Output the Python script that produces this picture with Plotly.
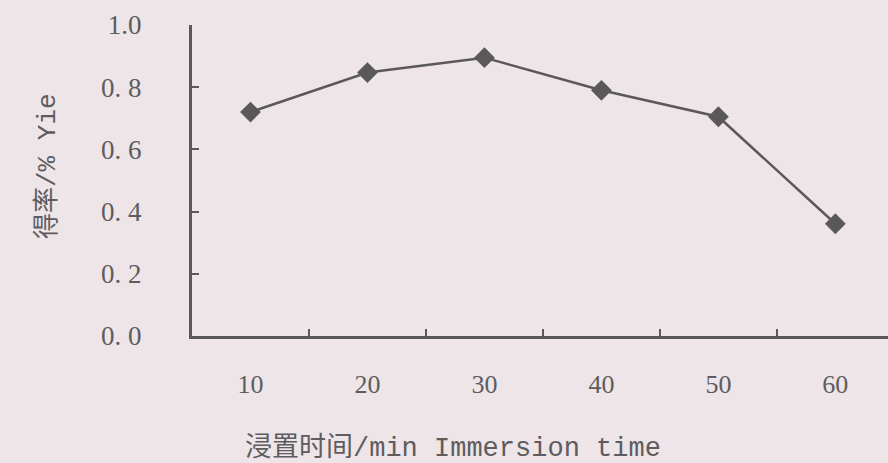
import plotly.graph_objects as go

# Data
immersion_time = [10, 20, 30, 40, 50, 60]
yield_values = [0.72, 0.847, 0.895, 0.790, 0.705, 0.361]
x_tick_labels = ["10", "20", "30", "40", "50", "60"]
x_minor_ticks = [15, 25, 35, 45, 55]
y_tick_vals = [0.0, 0.2, 0.4, 0.6, 0.8, 1.0]
y_tick_labels = ["0. 0", "0. 2", "0. 4", "0. 6", "0. 8", "1.0"]
x_title = "浸置时间/min Immersion time"
y_title = "得率/% Yie"

INK = "#5a585a"
TXT = "#5e5c5e"
BG = "#ede5e8"
FONT = "Liberation Mono, Noto Sans CJK SC"
NUMFONT = "Liberation Serif, Noto Sans CJK SC"

fig = go.Figure()
fig.add_trace(go.Scatter(
    x=immersion_time, y=yield_values, mode="lines+markers",
    line=dict(color=INK, width=2.5),
    marker=dict(symbol="diamond", size=16, color=INK),
    showlegend=False,
))

fig.update_layout(
    width=888, height=463,
    paper_bgcolor=BG, plot_bgcolor=BG,
    margin=dict(l=192, r=0, t=25, b=127),
    font=dict(family=FONT, color=TXT),
    xaxis=dict(
        range=[5.0, 64.5], showgrid=False, zeroline=False,
        showline=True, linecolor=INK, linewidth=3,
        tickvals=immersion_time, ticktext=x_tick_labels, ticks="",
        tickfont=dict(family=NUMFONT, size=26, color=TXT),
        ticklabelstandoff=23,
        minor=dict(tickvals=x_minor_ticks, ticks="inside", ticklen=7,
                   tickwidth=2, tickcolor=INK, showgrid=False),
    ),
    yaxis=dict(
        range=[0, 1.0], showgrid=False, zeroline=False,
        showline=True, linecolor=INK, linewidth=3,
        tickvals=y_tick_vals, ticktext=y_tick_labels,
        ticks="inside", ticklen=7, tickwidth=2, tickcolor=INK,
        tickfont=dict(family=NUMFONT, size=27, color=TXT),
        ticklabelstandoff=42,
    ),
    annotations=[
        dict(text=x_title, xref="paper", yref="paper",
             x=(453 - 192) / 696, y=-(448 - 336) / 311,
             xanchor="center", yanchor="middle", showarrow=False,
             font=dict(family=FONT, size=27, color=TXT)),
        dict(text=y_title, xref="paper", yref="paper",
             x=-(192 - 47) / 696, y=(336 - 166) / 311,
             xanchor="center", yanchor="middle", showarrow=False,
             textangle=-90,
             font=dict(family=FONT, size=26, color=TXT)),
    ],
)

fig.write_html(
    "out.html",
    config={"displayModeBar": False},
    post_script="document.body.style.margin='0';document.body.style.background='#ede5e8';",
)
